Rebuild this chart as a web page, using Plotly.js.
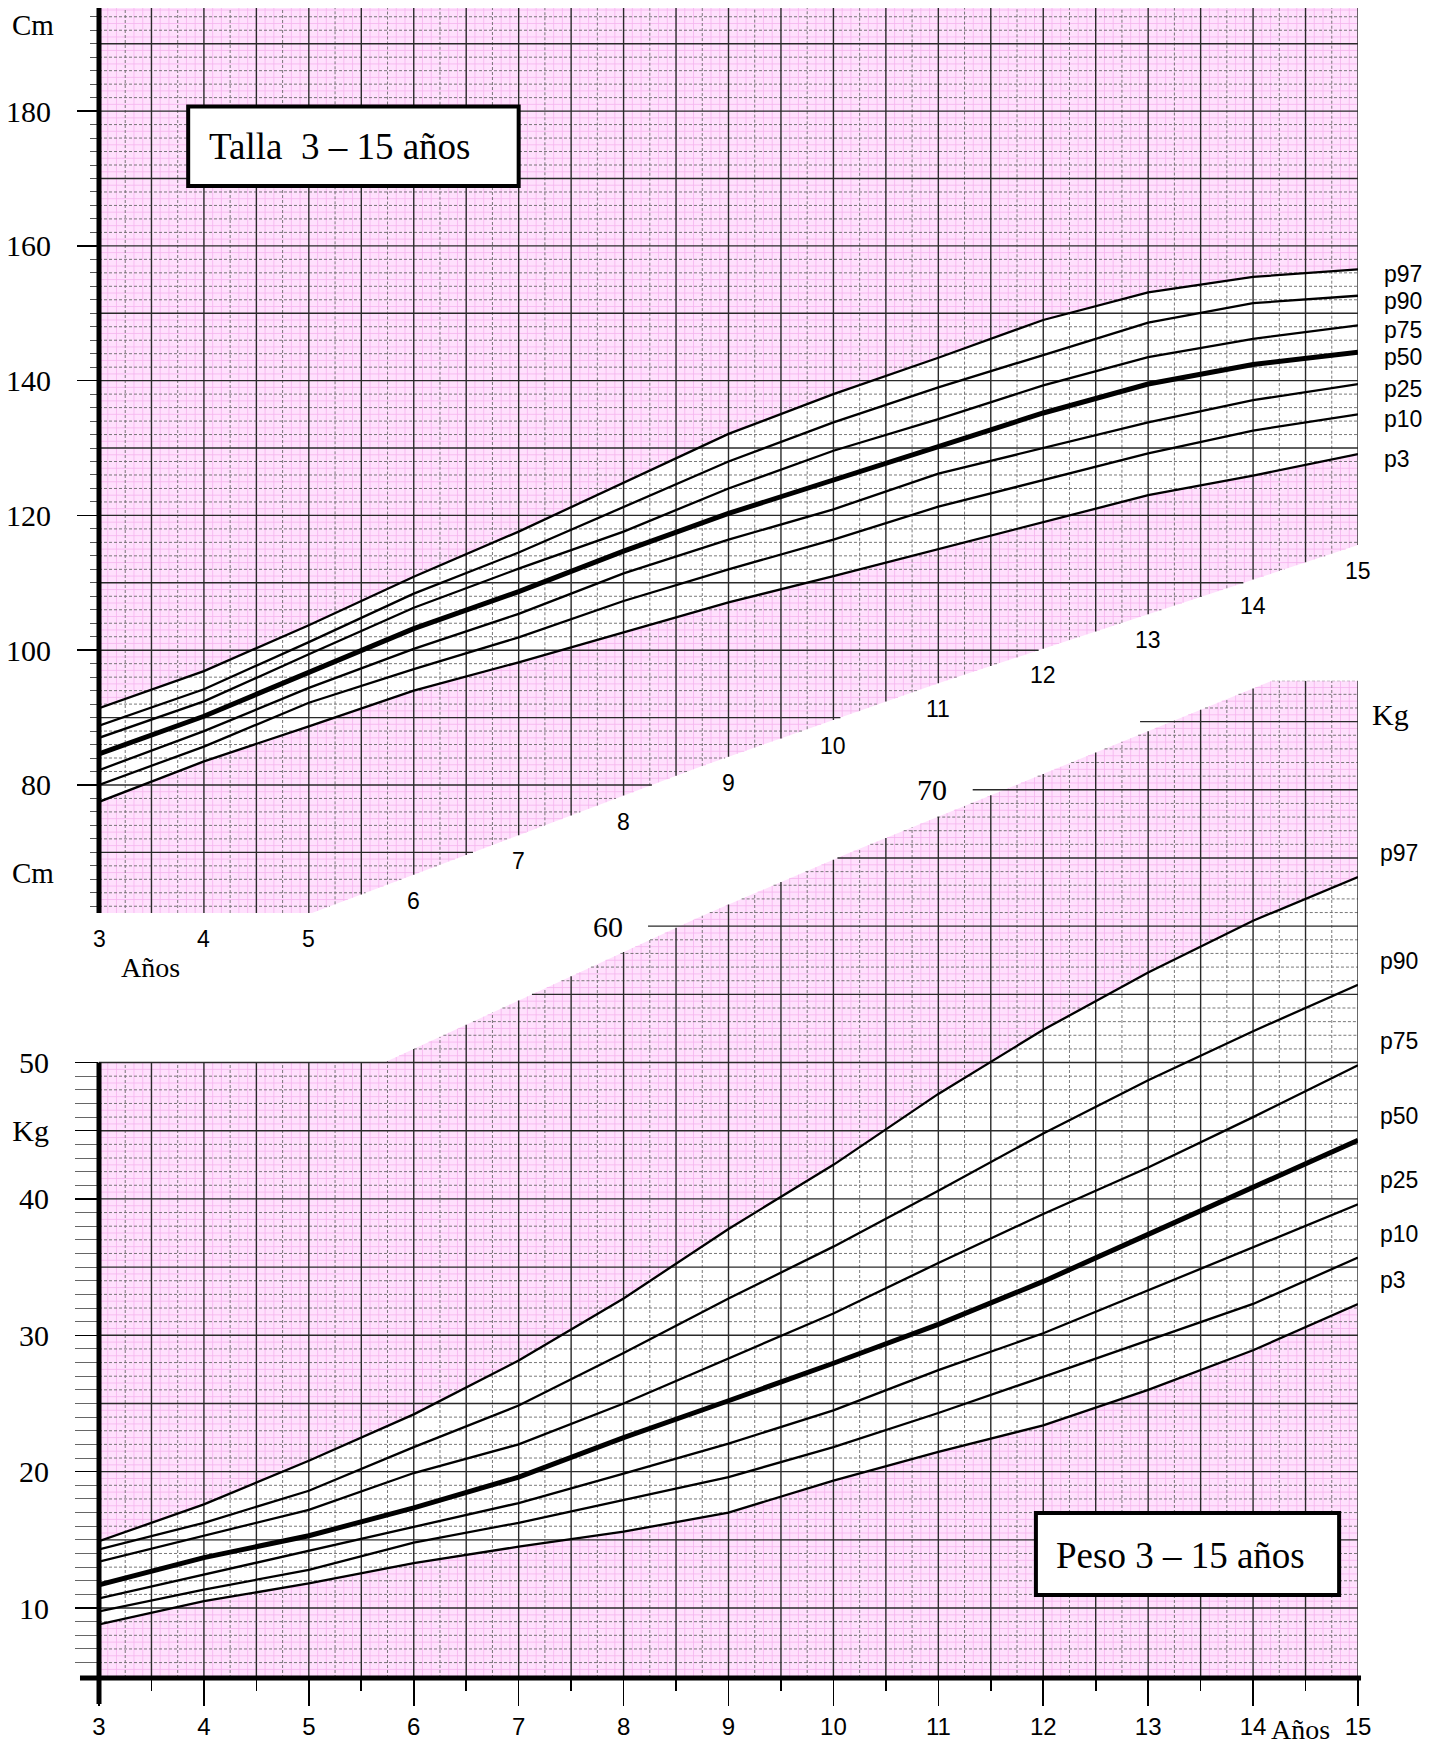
<!DOCTYPE html>
<html>
<head>
<meta charset="utf-8">
<script src="https://cdn.plot.ly/plotly-3.0.1.min.js"></script>
<style>html,body{margin:0;padding:0;background:#fff}</style>
</head>
<body>
<div id="chart" style="width:1446px;height:1749px"></div>
<script>
// ---------------- data ----------------
const years = [3,4,5,6,7,8,9,10,11,12,13,14,15];
const pctNames = ['p97','p90','p75','p50','p25','p10','p3'];

const tallaP97 = [91.4, 96.9, 103.7, 110.9, 117.6, 124.8, 132.1, 138.0, 143.4, 149.0, 153.1, 155.4, 156.5];
const tallaP90 = [88.8, 94.2, 101.2, 108.4, 114.5, 121.3, 128.0, 133.8, 139.0, 143.8, 148.6, 151.5, 152.6];
const tallaP75 = [87.0, 92.4, 99.4, 106.3, 112.1, 117.6, 124.0, 129.6, 134.3, 139.3, 143.5, 146.2, 148.2];
const tallaP50 = [84.6, 90.2, 96.7, 103.2, 108.7, 114.7, 120.3, 125.2, 130.2, 135.2, 139.5, 142.4, 144.2];
const tallaP25 = [82.2, 88.0, 94.4, 100.2, 105.4, 111.4, 116.4, 120.9, 126.2, 130.0, 133.8, 137.1, 139.5];
const tallaP10 = [80.0, 85.7, 92.2, 97.2, 101.9, 107.3, 112.0, 116.4, 121.3, 125.2, 129.2, 132.6, 135.0];
const tallaP3  = [77.5, 83.5, 88.7, 94.0, 98.2, 102.6, 107.1, 111.0, 115.0, 119.1, 123.0, 125.9, 129.1];

const pesoP97 = [14.9, 17.6, 20.8, 24.2, 28.15, 32.7, 37.8, 42.5, 47.7, 52.4, 56.6, 60.4, 63.6];
const pesoP90 = [14.3, 16.25, 18.6, 21.8, 24.85, 28.7, 32.7, 36.5, 40.6, 44.8, 48.7, 52.3, 55.7];
const pesoP75 = [13.4, 15.3, 17.2, 19.9, 22.0, 25.0, 28.3, 31.6, 35.3, 38.9, 42.3, 46.0, 49.8];
const pesoP50 = [11.7, 13.7, 15.3, 17.35, 19.6, 22.5, 25.2, 27.95, 30.8, 33.95, 37.4, 40.9, 44.3];
const pesoP25 = [10.7, 12.45, 14.2, 16.0, 17.7, 19.85, 22.05, 24.5, 27.45, 30.15, 33.3, 36.5, 39.6];
const pesoP10 = [9.75, 11.35, 12.8, 14.8, 16.25, 17.9, 19.6, 21.8, 24.3, 26.95, 29.6, 32.3, 35.7];
const pesoP3  = [8.8, 10.5, 11.8, 13.3, 14.5, 15.6, 17.0, 19.35, 21.45, 23.4, 26.0, 28.9, 32.3];

const tallaTickVals = [80,100,120,140,160,180];
const pesoTickVals  = [10,20,30,40,45,50];
const pesoTickText  = ['10','20','30','40','Kg','50'];
const pesoBandLabels = [60,70];
const pesoBandStubs  = [60,70,75];

// ---------------- sheet geometry ----------------
const T_RANGE = [61, 195.3];
const W_RANGE = [4.87, 78];
const T_CUT = {x:[3,5.03,8.73,11,15], y:[61,61,82.7,95.1,115.6]};          // lower cut of height sheet
const W_CUT = {x:[3,5.72,8.73,10.16,14.18,15], y:[50,50,60.7,65.4,78,78]}; // upper cut of weight sheet

const SERIF = 'Liberation Serif, Times New Roman, serif';
const SANS  = 'Liberation Sans, Arial, sans-serif';
const PINK = '#ffe0fd';
const PINK_LINE = '#f5b4ee';

function along(c, x){
  for (let i=0;i<c.x.length-1;i++){
    if (x <= c.x[i+1]) { const t=(x-c.x[i])/(c.x[i+1]-c.x[i]); return c.y[i]+t*(c.y[i+1]-c.y[i]); }
  }
  return c.y[c.y.length-1];
}
function across(c, y){
  for (let i=0;i<c.x.length-1;i++){
    if (c.y[i+1] >= y && c.y[i+1] > c.y[i]) {
      if (y <= c.y[i]) return c.x[i];
      const t=(y-c.y[i])/(c.y[i+1]-c.y[i]); return c.x[i]+t*(c.x[i+1]-c.x[i]);
    }
  }
  return c.x[c.x.length-1];
}

// ---------------- grid ----------------
const g = {};
['t','w'].forEach(a=>['p','d','s'].forEach(c=>g[a+c]={x:[],y:[]}));
function seg(o,x0,y0,x1,y1){ o.x.push(x0,x1,null); o.y.push(y0,y1,null); }
const tMax = Math.max(...T_CUT.y);
for (let k=1;k<=144;k++){
  const x = 3 + k/12;
  const c = k%6===0 ? 's' : (k%3===0 ? 'd' : 'p');
  seg(g['t'+c], x, along(T_CUT,x), x, T_RANGE[1]);
  seg(g['w'+c], x, W_RANGE[0], x, along(W_CUT,x));
}
for (let h=62; h<=195; h++){
  const c = h%10===0 ? 's' : (h%2===0 ? 'd' : 'p');
  const xr = h >= tMax ? 15 : across(T_CUT,h);
  seg(g['t'+c], 3, h, xr, h);
}
for (let i=11; i<=156; i++){
  const w = i/2;
  const c = (w%5===0) ? 's' : (Number.isInteger(w) ? 'd' : 'p');
  let xl = w <= 50 ? 3 : across(W_CUT,w);
  if (pesoBandStubs.includes(w)) xl = Math.max(3, xl-0.3);
  seg(g['w'+c], xl, w, 15, w);
}

const traces = [];
const base = {mode:'lines', hoverinfo:'skip', showlegend:false};
// pink sheets
traces.push(Object.assign({}, base, {x:[...T_CUT.x,15,3], y:[...T_CUT.y,T_RANGE[1],T_RANGE[1]],
  xaxis:'x', yaxis:'y', fill:'toself', fillcolor:PINK, line:{width:0}}));
traces.push(Object.assign({}, base, {x:[3,15,...W_CUT.x.slice().reverse()], y:[W_RANGE[0],W_RANGE[0],...W_CUT.y.slice().reverse()],
  xaxis:'x', yaxis:'y2', fill:'toself', fillcolor:PINK, line:{width:0}}));
// fine pink lines
traces.push(Object.assign({}, base, {x:g.tp.x, y:g.tp.y, xaxis:'x', yaxis:'y', line:{color:PINK_LINE,width:0.8}}));
traces.push(Object.assign({}, base, {x:g.wp.x, y:g.wp.y, xaxis:'x', yaxis:'y2', line:{color:PINK_LINE,width:0.8}}));

const talla = [tallaP97,tallaP90,tallaP75,tallaP50,tallaP25,tallaP10,tallaP3];
const peso  = [pesoP97,pesoP90,pesoP75,pesoP50,pesoP25,pesoP10,pesoP3];
// white band between p3 and p97
traces.push(Object.assign({}, base, {x:years.concat(years.slice().reverse()), y:tallaP97.concat(tallaP3.slice().reverse()),
  xaxis:'x', yaxis:'y', fill:'toself', fillcolor:'#ffffff', line:{width:0}}));
traces.push(Object.assign({}, base, {x:years.concat(years.slice().reverse()), y:pesoP97.concat(pesoP3.slice().reverse()),
  xaxis:'x', yaxis:'y2', fill:'toself', fillcolor:'#ffffff', line:{width:0}}));
// dashed & solid grid
traces.push(Object.assign({}, base, {x:g.td.x, y:g.td.y, xaxis:'x', yaxis:'y', line:{color:'#6a6a6a',width:0.9,dash:'3px,2px'}}));
traces.push(Object.assign({}, base, {x:g.wd.x, y:g.wd.y, xaxis:'x', yaxis:'y2', line:{color:'#6a6a6a',width:0.9,dash:'3px,2px'}}));
traces.push(Object.assign({}, base, {x:g.ts.x, y:g.ts.y, xaxis:'x', yaxis:'y', line:{color:'#2a2a2a',width:1.4}}));
traces.push(Object.assign({}, base, {x:g.ws.x, y:g.ws.y, xaxis:'x', yaxis:'y2', line:{color:'#2a2a2a',width:1.4}}));
// percentile curves
pctNames.forEach((n,i)=>{
  const w = n==='p50' ? 5 : 2.3;
  traces.push(Object.assign({}, base, {name:'Talla '+n, x:years, y:talla[i], xaxis:'x', yaxis:'y', line:{color:'#000',width:w}}));
  traces.push(Object.assign({}, base, {name:'Peso '+n, x:years, y:peso[i], xaxis:'x', yaxis:'y2', line:{color:'#000',width:w}}));
});

// ---------------- annotations ----------------
const ann = [];
years.forEach(yr=>{
  ann.push({x:yr, y:Math.max(along(T_CUT,yr), T_RANGE[0]+0.01), xref:'x', yref:'y', text:String(yr), showarrow:false,
    yshift:-26, font:{family:SANS,size:23,color:'#000'}});
});
ann.push({x:3.49, y:T_RANGE[0]+0.01, xref:'x', yref:'y', text:'Años', showarrow:false, yshift:-55, font:{family:SERIF,size:28,color:'#000'}});
ann.push({x:-0.0524, y:192.8, xref:'paper', yref:'y', xanchor:'center', text:'Cm', showarrow:false, font:{family:SERIF,size:29,color:'#000'}});
ann.push({x:-0.0524, y:66.9, xref:'paper', yref:'y', xanchor:'center', text:'Cm', showarrow:false, font:{family:SERIF,size:29,color:'#000'}});
pctNames.forEach((n,i)=>{
  ann.push({x:15, y:talla[i][talla[i].length-1], xref:'x', yref:'y', text:n, showarrow:false, xanchor:'left', xshift:24, yshift:-5,
    font:{family:SANS,size:23,color:'#000'}});
  ann.push({x:15, y:peso[i][peso[i].length-1], xref:'x', yref:'y2', text:n, showarrow:false, xanchor:'left', xshift:20, yshift:24,
    font:{family:SANS,size:23,color:'#000'}});
});
pesoBandLabels.forEach(w=>{
  ann.push({x:across(W_CUT,w), y:w, xref:'x', yref:'y2', text:String(w), showarrow:false, xanchor:'right', xshift:-55,
    font:{family:SERIF,size:30,color:'#000'}});
});
ann.push({x:15, y:75, xref:'x', yref:'y2', text:'Kg', showarrow:false, xanchor:'left', xshift:12, yshift:7, font:{family:SERIF,size:30,color:'#000'}});
ann.push({x:14.45, y:W_RANGE[0], xref:'x', yref:'y2', text:'Años', showarrow:false, yshift:-51, font:{family:SERIF,size:28,color:'#000'}});
ann.push({x:5.30, y:174.8, xref:'x', yref:'y', text:'Talla\u00a0 3 – 15 años', showarrow:false, font:{family:SERIF,size:37,color:'#000'}});
ann.push({x:13.31, y:13.85, xref:'x', yref:'y2', text:'Peso 3 – 15 años', showarrow:false, font:{family:SERIF,size:37,color:'#000'}});

// ---------------- shapes ----------------
const wFrac = v => (v-W_RANGE[0])/(W_RANGE[1]-W_RANGE[0]);
const shapes = [
  {type:'line', xref:'paper', yref:'y domain', x0:0, x1:0, y0:0, y1:1, line:{color:'#000',width:5}, layer:'above'},
  {type:'line', xref:'paper', yref:'y2 domain', x0:0, x1:0, y0:-0.026, y1:wFrac(50), line:{color:'#000',width:5}, layer:'above'},
  {type:'line', xref:'paper', yref:'y2 domain', x0:-0.0151, x1:1.0024, y0:0, y1:0, line:{color:'#000',width:5}, layer:'above'},
  {type:'rect', xref:'x', yref:'y', x0:3.85, x1:7.0, y0:168.9, y1:180.7, line:{color:'#000',width:4}, fillcolor:'#fff', layer:'above'},
  {type:'rect', xref:'x', yref:'y2', x0:11.93, x1:14.82, y0:10.96, y1:16.97, line:{color:'#000',width:4}, fillcolor:'#fff', layer:'above'}
];

const tallaMinor = [];
for (let h=62; h<=194; h+=2) if (!tallaTickVals.includes(h)) tallaMinor.push(h);
const pesoMinor = [];
for (let w=6; w<=49; w++) if (!pesoTickVals.includes(w)) pesoMinor.push(w);
const halfYears = years.slice(0,-1).map(y=>y+0.5);

const layout = {
  width:1446, height:1749,
  margin:{l:99, r:88, t:8, b:71, pad:0},
  paper_bgcolor:'#fff', plot_bgcolor:'rgba(0,0,0,0)',
  showlegend:false,
  font:{family:SANS, color:'#000'},
  xaxis:{range:[3,15], anchor:'y2', showgrid:false, zeroline:false, showline:false,
    tickmode:'array', tickvals:years, ticks:'outside', ticklen:27, tickwidth:1.6, tickcolor:'#000',
    tickfont:{family:SANS,size:24,color:'#000'},
    minor:{tickmode:'array', tickvals:halfYears, ticks:'outside', ticklen:12, tickwidth:1.6, tickcolor:'#000', showgrid:false}},
  yaxis:{domain:[765/1670,1], range:T_RANGE, anchor:'x', showgrid:false, zeroline:false, showline:false,
    tickmode:'array', tickvals:tallaTickVals, ticks:'outside', ticklen:21, tickwidth:1.5, tickcolor:'#000',
    tickfont:{family:SERIF,size:30,color:'#000'}, ticklabelstandoff:20,
    minor:{tickmode:'array', tickvals:tallaMinor, ticks:'outside', ticklen:8, tickwidth:1, tickcolor:'#555', showgrid:false}},
  yaxis2:{domain:[0,997.3/1670], range:W_RANGE, anchor:'x', showgrid:false, zeroline:false, showline:false,
    tickmode:'array', tickvals:pesoTickVals, ticktext:pesoTickText, ticks:'outside', ticklen:23, tickwidth:1.5, tickcolor:'#000',
    tickfont:{family:SERIF,size:30,color:'#000'}, ticklabelstandoff:20,
    minor:{tickmode:'array', tickvals:pesoMinor, ticks:'outside', ticklen:23, tickwidth:1, tickcolor:'#666', showgrid:false}},
  annotations:ann,
  shapes:shapes
};

Plotly.newPlot('chart', traces, layout, {staticPlot:true, displayModeBar:false});
</script>
</body>
</html>
